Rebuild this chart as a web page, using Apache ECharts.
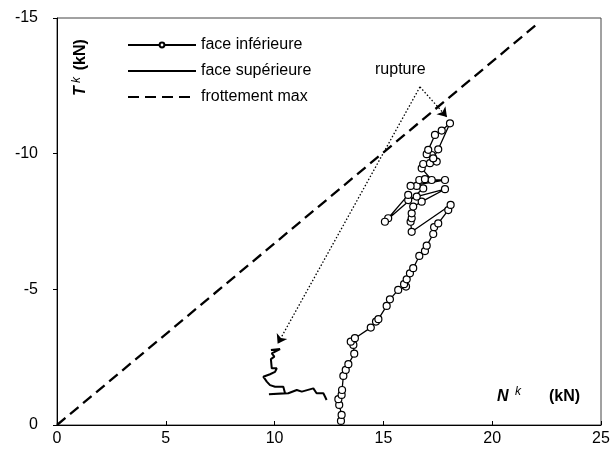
<!DOCTYPE html>
<html>
<head>
<meta charset="utf-8">
<script src="https://cdn.jsdelivr.net/npm/echarts@6/dist/echarts.min.js"></script>
<style>
  html, body { margin: 0; padding: 0; background: #fff; }
  #chart { width: 615px; height: 461px; }
</style>
</head>
<body>
<div id="chart"></div>
<script>
// face inférieure (avec marqueurs)
var infN = [13.05, 13.08, 12.97, 12.93, 13.08, 13.10, 13.16, 13.27, 13.39, 13.66, 13.62, 13.50, 13.69,
  14.42, 14.66, 14.77, 15.15, 15.30, 15.68, 16.04, 15.95, 16.07, 16.22, 16.37, 16.65, 16.91, 16.99,
  17.29, 17.33, 17.52, 17.98, 18.09,
  16.30, 16.25, 16.30, 16.30, 16.37, 16.76, 17.83, 16.53, 16.14, 16.14, 15.22, 15.07,
  16.83, 16.53, 16.25, 17.83, 16.65, 16.91, 17.22, 16.76, 16.83, 17.14, 17.45, 17.29, 17.22,
  16.99, 17.06, 17.37, 17.68, 18.06, 17.52, 17.29];
var infT = [-0.15, -0.37, -0.74, -0.95, -1.11, -1.29, -1.81, -2.03, -2.24, -2.63, -2.95, -3.07, -3.20,
  -3.59, -3.81, -3.90, -4.39, -4.63, -4.98, -5.10, -5.19, -5.37, -5.59, -5.78, -6.23, -6.41, -6.61,
  -7.04, -7.29, -7.43, -7.92, -8.11,
  -7.12, -7.49, -7.62, -7.80, -8.05, -8.23, -8.69, -8.42, -8.29, -8.48, -7.62, -7.49,
  -8.72, -8.81, -8.81, -9.03, -9.03, -9.06, -9.03, -9.46, -9.62, -9.65, -9.71, -9.83, -9.95,
  -9.98, -10.14, -10.69, -10.85, -11.12, -10.16, -9.83];

// face supérieure
var supN = [12.39, 12.32, 12.24, 12.16, 11.93, 11.78, 11.25, 11.02, 10.63, 9.74, 10.48, 10.40, 10.02,
  9.79, 9.64, 9.48, 9.79, 10.02, 10.10, 9.87, 9.83, 9.99, 9.87, 10.25, 9.83];
var supT = [-0.92, -1.04, -1.17, -1.11, -1.17, -1.35, -1.23, -1.29, -1.17, -1.13, -1.17, -1.41, -1.41,
  -1.47, -1.60, -1.78, -1.87, -1.96, -2.09, -2.09, -2.43, -2.52, -2.64, -2.80, -2.76];

// frottement max
var frotN = [0, 22.1];
var frotT = [0, -14.8];

// flèches "rupture"
var ruptureFrom = [16.68, -12.46];
var ruptureTo = [[17.92, -11.35], [10.14, -2.99]];

var xTicks = [0, 5, 10, 15, 20, 25];
var yTicks = [0, -5, -10, -15];

function pairs(a, b) { return a.map(function (v, i) { return [v, b[i]]; }); }

var font = 'Arial, "Liberation Sans", sans-serif';
var chart = echarts.init(document.getElementById('chart'));

chart.setOption({
  animation: false,
  grid: { left: 57, right: 14, top: 18, bottom: 36, show: true, borderColor: '#444', borderWidth: 1 },
  xAxis: {
    type: 'value', min: xTicks[0], max: xTicks[xTicks.length - 1], interval: 5,
    axisLine: { lineStyle: { color: '#000', width: 1 } },
    axisTick: { inside: true, length: 4, lineStyle: { color: '#000' } },
    axisLabel: { color: '#000', fontSize: 16, fontFamily: font, margin: 6 },
    splitLine: { show: false }
  },
  yAxis: {
    type: 'value', min: yTicks[yTicks.length - 1], max: yTicks[0], interval: 5, inverse: true,
    axisLine: { show: true, lineStyle: { color: '#000', width: 1 } },
    axisTick: { show: true, length: 4, lineStyle: { color: '#000' } },
    axisLabel: { color: '#000', fontSize: 16, fontFamily: font, margin: 19 },
    splitLine: { show: false }
  },
  legend: {
    orient: 'vertical', left: 122, top: 32, itemWidth: 68, itemHeight: 6, itemGap: 10,
    textStyle: { color: '#000', fontSize: 16, fontFamily: font },
    data: [
      { name: 'face inférieure' },
      { name: 'face supérieure', itemStyle: { opacity: 0 } },
      { name: 'frottement max', itemStyle: { opacity: 0 } }
    ]
  },
  series: [
    {
      name: 'face inférieure', type: 'line', data: pairs(infN, infT),
      symbol: 'circle', symbolSize: 7,
      itemStyle: { color: '#fff', borderColor: '#000', borderWidth: 1.2 },
      lineStyle: { color: '#000', width: 1.3 }, z: 3
    },
    {
      name: 'face supérieure', type: 'line', data: pairs(supN, supT),
      symbol: 'none', itemStyle: { color: '#000' },
      lineStyle: { color: '#000', width: 2 }
    },
    {
      name: 'frottement max', type: 'line', data: pairs(frotN, frotT),
      symbol: 'none', itemStyle: { color: '#000' },
      lineStyle: { color: '#000', width: 2.3, type: [11, 6] },
      markLine: {
        silent: true, symbol: ['none', 'arrow'], symbolSize: 9,
        lineStyle: { color: '#000', width: 1.3, type: [1.5, 2] },
        label: { show: false },
        data: ruptureTo.map(function (p) { return [{ coord: ruptureFrom }, { coord: p }]; })
      }
    }
  ],
  graphic: [
    {
      type: 'text', left: 375, top: 62,
      style: { text: 'rupture', fill: '#000', font: '16px ' + font }
    },
    {
      type: 'text', x: 71, y: 96, rotation: Math.PI / 2,
      style: {
        text: '{b|T}{s| k}  {p|(kN)}', fill: '#000',
        rich: {
          b: { fontSize: 16, fontWeight: 'bold', fontStyle: 'italic', fontFamily: font },
          s: { fontSize: 12, fontStyle: 'italic', fontFamily: font, padding: [0, 0, 8, 0] },
          p: { fontSize: 16, fontWeight: 'bold', fontFamily: font }
        }
      }
    },
    {
      type: 'text', left: 497, top: 389,
      style: { text: 'N', fill: '#000', font: 'italic bold 16px ' + font }
    },
    {
      type: 'text', left: 515, top: 386,
      style: { text: 'k', fill: '#000', font: 'italic 12px ' + font }
    },
    {
      type: 'text', left: 549, top: 389,
      style: { text: '(kN)', fill: '#000', font: 'bold 16px ' + font }
    }
  ]
});
</script>
</body>
</html>
